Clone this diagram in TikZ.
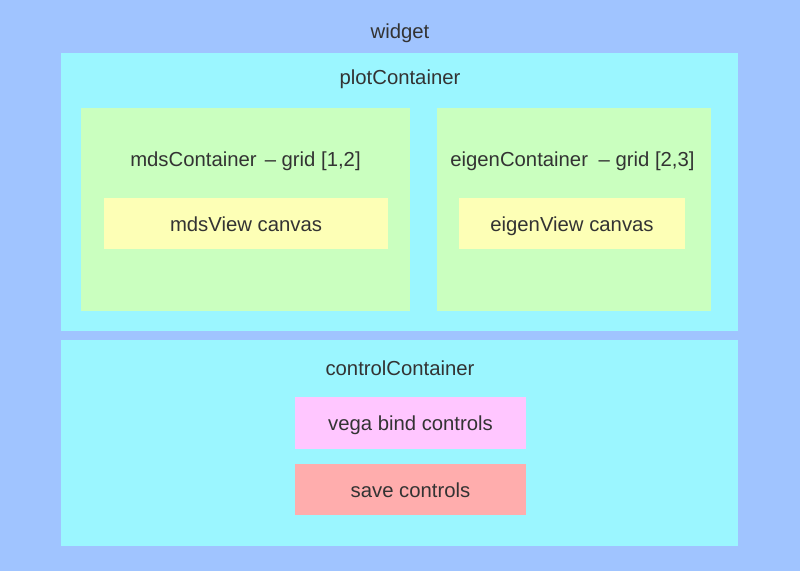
\documentclass[tikz,border=0pt]{standalone}
\usepackage{fontspec}
\setmainfont{Liberation Sans}
\definecolor{bgblue}{HTML}{A0C4FF}
\definecolor{cyanbox}{HTML}{9BF6FF}
\definecolor{greenbox}{HTML}{CAFFBF}
\definecolor{yellowbox}{HTML}{FDFFB6}
\definecolor{pinkbox}{HTML}{FFC6FF}
\definecolor{redbox}{HTML}{FFADAD}
\definecolor{txt}{HTML}{333333}
\tikzset{
  lbl/.style={text=txt, font=\fontsize{20.3}{24}\selectfont, inner sep=0pt, anchor=base},
  area/.style={draw=none, inner sep=0pt, outer sep=0pt, anchor=north west},
}
\begin{document}
\begin{tikzpicture}[x=1pt,y=-1pt]
\useasboundingbox (0,0) rectangle (800,571);
\fill[bgblue] (0,0) rectangle (800,571);
\node[lbl] (widget) at (400,38.3) {widget};
% plot container
\node[area, fill=cyanbox, minimum width=677pt, minimum height=278pt] (plot) at (61,53) {};
\node[lbl] (plotlbl) at (400,84) {plotContainer};
\node[area, fill=greenbox, minimum width=329pt, minimum height=203pt] (mds) at (81,108) {};
\node[lbl] (mdslbl) at (245.5,166.7) {mdsContainer \hspace{2.5pt}– grid [1,2]};
\node[area, fill=yellowbox, minimum width=284pt, minimum height=51pt] (mdsview) at (104,198) {};
\node[lbl] (mdsviewlbl) at (246,231.7) {mdsView canvas};
\node[area, fill=greenbox, minimum width=274pt, minimum height=203pt] (eigen) at (437,108) {};
\node[lbl] (eigenlbl) at (572.5,166.7) {eigenContainer \hspace{5pt}– grid [2,3]};
\node[area, fill=yellowbox, minimum width=226pt, minimum height=51pt] (eigenview) at (459,198) {};
\node[lbl] (eigenviewlbl) at (572,231.7) {eigenView canvas};
% control container
\node[area, fill=cyanbox, minimum width=677pt, minimum height=206pt] (control) at (61,340) {};
\node[lbl] (controllbl) at (400,375) {controlContainer};
\node[area, fill=pinkbox, minimum width=231pt, minimum height=52pt] (vega) at (295,397) {};
\node[lbl] (vegalbl) at (410.5,430.7) {vega bind controls};
\node[area, fill=redbox, minimum width=231pt, minimum height=51pt] (save) at (295,464) {};
\node[lbl] (savelbl) at (410.5,497.3) {save controls};
\end{tikzpicture}
\end{document}
